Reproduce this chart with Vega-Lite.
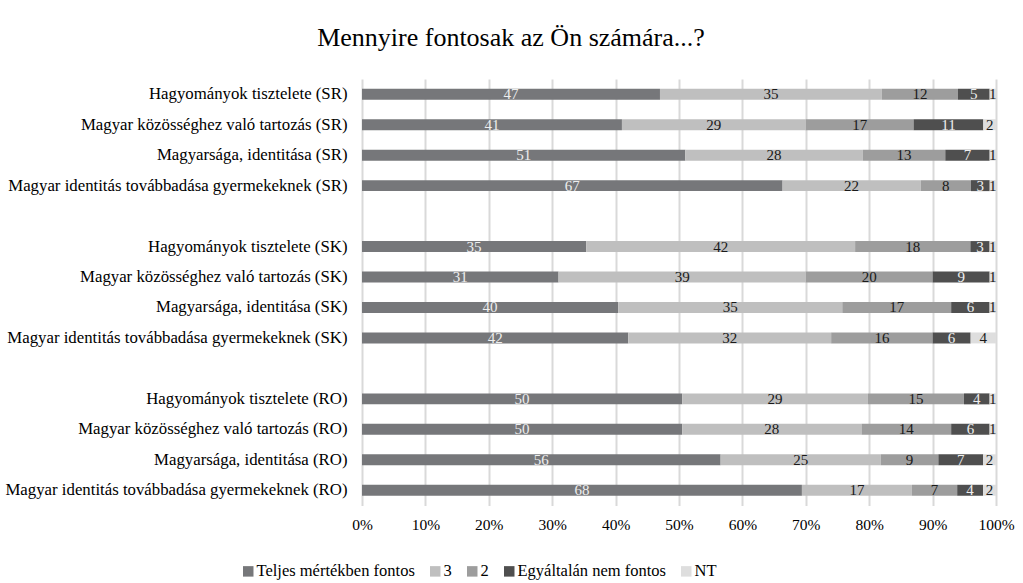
{
  "$schema": "https://vega.github.io/schema/vega-lite/v6.json",
  "autosize": "none",
  "padding": {"left": 362, "top": 79, "right": 27, "bottom": 77.5},
  "width": 634,
  "height": 426.5,
  "background": "white",
  "title": {
    "text": "Mennyire fontosak az Ön számára...?",
    "font": "Liberation Serif",
    "fontSize": 26,
    "fontWeight": "normal",
    "color": "#000000",
    "anchor": "middle",
    "frame": "group",
    "dx": -168,
    "offset": 28
  },
  "data": {
    "values": [
      {"cat": "Hagyományok tisztelete (SR)", "resp": "Teljes mértékben fontos", "ord": 1, "v": 47},
      {"cat": "Hagyományok tisztelete (SR)", "resp": "3", "ord": 2, "v": 35},
      {"cat": "Hagyományok tisztelete (SR)", "resp": "2", "ord": 3, "v": 12},
      {"cat": "Hagyományok tisztelete (SR)", "resp": "Egyáltalán nem fontos", "ord": 4, "v": 5},
      {"cat": "Hagyományok tisztelete (SR)", "resp": "NT", "ord": 5, "v": 1},
      {"cat": "Magyar közösséghez való tartozás (SR)", "resp": "Teljes mértékben fontos", "ord": 1, "v": 41},
      {"cat": "Magyar közösséghez való tartozás (SR)", "resp": "3", "ord": 2, "v": 29},
      {"cat": "Magyar közösséghez való tartozás (SR)", "resp": "2", "ord": 3, "v": 17},
      {"cat": "Magyar közösséghez való tartozás (SR)", "resp": "Egyáltalán nem fontos", "ord": 4, "v": 11},
      {"cat": "Magyar közösséghez való tartozás (SR)", "resp": "NT", "ord": 5, "v": 2},
      {"cat": "Magyarsága, identitása (SR)", "resp": "Teljes mértékben fontos", "ord": 1, "v": 51},
      {"cat": "Magyarsága, identitása (SR)", "resp": "3", "ord": 2, "v": 28},
      {"cat": "Magyarsága, identitása (SR)", "resp": "2", "ord": 3, "v": 13},
      {"cat": "Magyarsága, identitása (SR)", "resp": "Egyáltalán nem fontos", "ord": 4, "v": 7},
      {"cat": "Magyarsága, identitása (SR)", "resp": "NT", "ord": 5, "v": 1},
      {"cat": "Magyar identitás továbbadása gyermekeknek (SR)", "resp": "Teljes mértékben fontos", "ord": 1, "v": 67},
      {"cat": "Magyar identitás továbbadása gyermekeknek (SR)", "resp": "3", "ord": 2, "v": 22},
      {"cat": "Magyar identitás továbbadása gyermekeknek (SR)", "resp": "2", "ord": 3, "v": 8},
      {"cat": "Magyar identitás továbbadása gyermekeknek (SR)", "resp": "Egyáltalán nem fontos", "ord": 4, "v": 3},
      {"cat": "Magyar identitás továbbadása gyermekeknek (SR)", "resp": "NT", "ord": 5, "v": 1},
      {"cat": "Hagyományok tisztelete (SK)", "resp": "Teljes mértékben fontos", "ord": 1, "v": 35},
      {"cat": "Hagyományok tisztelete (SK)", "resp": "3", "ord": 2, "v": 42},
      {"cat": "Hagyományok tisztelete (SK)", "resp": "2", "ord": 3, "v": 18},
      {"cat": "Hagyományok tisztelete (SK)", "resp": "Egyáltalán nem fontos", "ord": 4, "v": 3},
      {"cat": "Hagyományok tisztelete (SK)", "resp": "NT", "ord": 5, "v": 1},
      {"cat": "Magyar közösséghez való tartozás (SK)", "resp": "Teljes mértékben fontos", "ord": 1, "v": 31},
      {"cat": "Magyar közösséghez való tartozás (SK)", "resp": "3", "ord": 2, "v": 39},
      {"cat": "Magyar közösséghez való tartozás (SK)", "resp": "2", "ord": 3, "v": 20},
      {"cat": "Magyar közösséghez való tartozás (SK)", "resp": "Egyáltalán nem fontos", "ord": 4, "v": 9},
      {"cat": "Magyar közösséghez való tartozás (SK)", "resp": "NT", "ord": 5, "v": 1},
      {"cat": "Magyarsága, identitása (SK)", "resp": "Teljes mértékben fontos", "ord": 1, "v": 40},
      {"cat": "Magyarsága, identitása (SK)", "resp": "3", "ord": 2, "v": 35},
      {"cat": "Magyarsága, identitása (SK)", "resp": "2", "ord": 3, "v": 17},
      {"cat": "Magyarsága, identitása (SK)", "resp": "Egyáltalán nem fontos", "ord": 4, "v": 6},
      {"cat": "Magyarsága, identitása (SK)", "resp": "NT", "ord": 5, "v": 1},
      {"cat": "Magyar identitás továbbadása gyermekeknek (SK)", "resp": "Teljes mértékben fontos", "ord": 1, "v": 42},
      {"cat": "Magyar identitás továbbadása gyermekeknek (SK)", "resp": "3", "ord": 2, "v": 32},
      {"cat": "Magyar identitás továbbadása gyermekeknek (SK)", "resp": "2", "ord": 3, "v": 16},
      {"cat": "Magyar identitás továbbadása gyermekeknek (SK)", "resp": "Egyáltalán nem fontos", "ord": 4, "v": 6},
      {"cat": "Magyar identitás továbbadása gyermekeknek (SK)", "resp": "NT", "ord": 5, "v": 4},
      {"cat": "Hagyományok tisztelete (RO)", "resp": "Teljes mértékben fontos", "ord": 1, "v": 50},
      {"cat": "Hagyományok tisztelete (RO)", "resp": "3", "ord": 2, "v": 29},
      {"cat": "Hagyományok tisztelete (RO)", "resp": "2", "ord": 3, "v": 15},
      {"cat": "Hagyományok tisztelete (RO)", "resp": "Egyáltalán nem fontos", "ord": 4, "v": 4},
      {"cat": "Hagyományok tisztelete (RO)", "resp": "NT", "ord": 5, "v": 1},
      {"cat": "Magyar közösséghez való tartozás (RO)", "resp": "Teljes mértékben fontos", "ord": 1, "v": 50},
      {"cat": "Magyar közösséghez való tartozás (RO)", "resp": "3", "ord": 2, "v": 28},
      {"cat": "Magyar közösséghez való tartozás (RO)", "resp": "2", "ord": 3, "v": 14},
      {"cat": "Magyar közösséghez való tartozás (RO)", "resp": "Egyáltalán nem fontos", "ord": 4, "v": 6},
      {"cat": "Magyar közösséghez való tartozás (RO)", "resp": "NT", "ord": 5, "v": 1},
      {"cat": "Magyarsága, identitása (RO)", "resp": "Teljes mértékben fontos", "ord": 1, "v": 56},
      {"cat": "Magyarsága, identitása (RO)", "resp": "3", "ord": 2, "v": 25},
      {"cat": "Magyarsága, identitása (RO)", "resp": "2", "ord": 3, "v": 9},
      {"cat": "Magyarsága, identitása (RO)", "resp": "Egyáltalán nem fontos", "ord": 4, "v": 7},
      {"cat": "Magyarsága, identitása (RO)", "resp": "NT", "ord": 5, "v": 2},
      {"cat": "Magyar identitás továbbadása gyermekeknek (RO)", "resp": "Teljes mértékben fontos", "ord": 1, "v": 68},
      {"cat": "Magyar identitás továbbadása gyermekeknek (RO)", "resp": "3", "ord": 2, "v": 17},
      {"cat": "Magyar identitás továbbadása gyermekeknek (RO)", "resp": "2", "ord": 3, "v": 7},
      {"cat": "Magyar identitás továbbadása gyermekeknek (RO)", "resp": "Egyáltalán nem fontos", "ord": 4, "v": 4},
      {"cat": "Magyar identitás továbbadása gyermekeknek (RO)", "resp": "NT", "ord": 5, "v": 2}
    ]
  },
  "transform": [
    {"stack": "v", "groupby": ["cat"], "sort": [{"field": "ord", "order": "ascending"}], "offset": "normalize", "as": ["v0", "v1"]},
    {"calculate": "(datum.v0 + datum.v1) / 2", "as": "mid"}
  ],
  "encoding": {
    "y": {
      "field": "cat",
      "type": "nominal",
      "title": null,
      "scale": {
        "domain": [
          "Hagyományok tisztelete (SR)",
          "Magyar közösséghez való tartozás (SR)",
          "Magyarsága, identitása (SR)",
          "Magyar identitás továbbadása gyermekeknek (SR)",
          " ",
          "Hagyományok tisztelete (SK)",
          "Magyar közösséghez való tartozás (SK)",
          "Magyarsága, identitása (SK)",
          "Magyar identitás továbbadása gyermekeknek (SK)",
          "  ",
          "Hagyományok tisztelete (RO)",
          "Magyar közösséghez való tartozás (RO)",
          "Magyarsága, identitása (RO)",
          "Magyar identitás továbbadása gyermekeknek (RO)"
        ],
        "paddingInner": 0.64,
        "paddingOuter": 0.32
      },
      "axis": {
        "domain": false,
        "ticks": false,
        "grid": false,
        "labelFont": "Liberation Serif",
        "labelFontSize": 16.8,
        "labelColor": "#000000",
        "labelPadding": 15,
        "labelLimit": 400
      }
    }
  },
  "layer": [
    {
      "mark": {"type": "bar"},
      "encoding": {
        "x": {
          "field": "v0",
          "type": "quantitative",
          "title": null,
          "scale": {"domain": [0, 1], "nice": false},
          "axis": {
            "format": ".0%",
            "values": [0, 0.1, 0.2, 0.3, 0.4, 0.5, 0.6, 0.7, 0.8, 0.9, 1],
            "domain": false,
            "ticks": false,
            "grid": true,
            "gridColor": "#d9d9d9",
            "gridWidth": 2,
            "labelFlush": false,
            "labelFont": "Liberation Serif",
            "labelFontSize": 15.5,
            "labelColor": "#000000",
            "labelPadding": 12
          }
        },
        "x2": {"field": "v1"},
        "color": {
          "field": "resp",
          "type": "nominal",
          "sort": null,
          "scale": {
            "domain": ["Teljes mértékben fontos", "3", "2", "Egyáltalán nem fontos", "NT"],
            "range": ["#76777a", "#bfbfbf", "#9d9d9d", "#4f4f4f", "#dedede"]
          },
          "legend": {
            "title": null,
            "orient": "none",
            "direction": "horizontal",
            "legendX": -122,
            "legendY": 484,
            "symbolType": "square",
            "symbolSize": 110,
            "symbolStrokeWidth": 0,
            "labelFont": "Liberation Serif",
            "labelFontSize": 16.5,
            "labelColor": "#000000",
            "labelOffset": 0,
            "columnPadding": 12
          }
        }
      }
    },
    {
      "mark": {"type": "text", "font": "Liberation Serif", "fontSize": 15, "baseline": "middle", "align": "center"},
      "encoding": {
        "x": {"field": "mid", "type": "quantitative"},
        "text": {"field": "v", "type": "quantitative"},
        "color": {
          "condition": {"test": "datum.resp === 'Teljes mértékben fontos' || datum.resp === 'Egyáltalán nem fontos'", "value": "#eeeeee"},
          "value": "#1a1a1a"
        }
      }
    }
  ],
  "config": {
    "font": "Liberation Serif",
    "view": {"stroke": null}
  }
}
